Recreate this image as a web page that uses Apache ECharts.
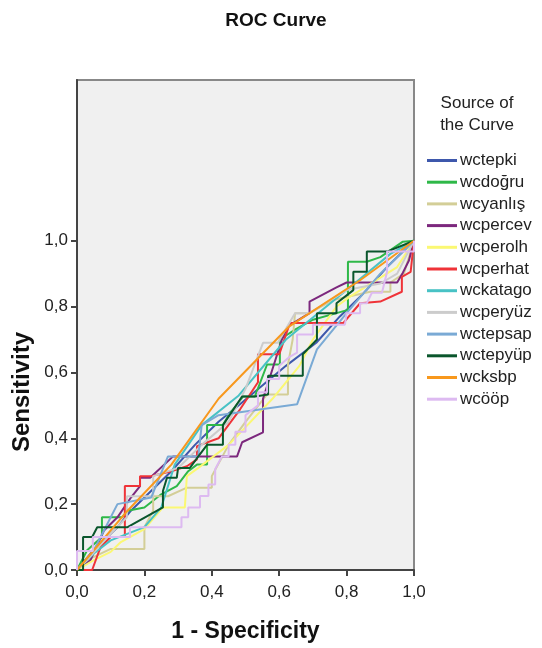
<!DOCTYPE html>
<html>
<head>
<meta charset="utf-8">
<script src="https://cdn.jsdelivr.net/npm/echarts@6/dist/echarts.min.js"></script>
<style>html,body{margin:0;padding:0;background:#fff;}#c{width:542px;height:648px;}</style>
</head>
<body>
<div id="c"></div>
<script>
// Tick labels
var tickValues = [0, 0.2, 0.4, 0.6, 0.8, 1.0];
var seriesNames = ['wctepki','wcdoğru','wcyanlış','wcpercev','wcperolh','wcperhat','wckatago','wcperyüz','wctepsap','wctepyüp','wcksbp','wcööp'];
var seriesColors = ['#3e58ac','#2eb848','#d3ce97','#7c287d','#fbf873','#ef3338','#48c2c5','#cccccc','#7aaad5','#0a562c','#f8981d','#ddbaf1'];

// [1 - specificity, sensitivity]
var wctepki = [[0,0],[0.04,0.05],[0.08,0.09],[0.12,0.13],[0.16,0.18],[0.2,0.22],[0.28,0.30],[0.35,0.38],[0.42,0.45],[0.48,0.50],[0.55,0.56],[0.62,0.62],[0.71,0.69],[0.78,0.77],[0.85,0.84],[0.92,0.92],[1,1]];
var wcdogru = [[0,0],[0.03,0.06],[0.074,0.10],[0.074,0.16],[0.134,0.16],[0.15,0.18],[0.2,0.19],[0.25,0.23],[0.296,0.255],[0.33,0.30],[0.356,0.32],[0.386,0.32],[0.386,0.44],[0.433,0.44],[0.45,0.47],[0.493,0.527],[0.528,0.527],[0.564,0.624],[0.602,0.624],[0.602,0.70],[0.647,0.73],[0.70,0.76],[0.77,0.78],[0.804,0.79],[0.804,0.936],[0.86,0.936],[0.90,0.95],[0.967,0.997],[1,1]];
var wcyanlis = [[0,0],[0.03,0.03],[0.1,0.064],[0.2,0.064],[0.2,0.13],[0.226,0.18],[0.226,0.224],[0.27,0.224],[0.326,0.25],[0.40,0.25],[0.40,0.285],[0.45,0.38],[0.50,0.45],[0.564,0.533],[0.626,0.533],[0.626,0.624],[0.64,0.70],[0.647,0.78],[0.69,0.78],[0.76,0.82],[0.87,0.845],[0.93,0.845],[0.93,0.873],[0.97,0.90],[1,1]];
var wcpercev = [[0,0],[0.04,0.03],[0.08,0.12],[0.12,0.16],[0.16,0.22],[0.187,0.255],[0.187,0.28],[0.217,0.28],[0.285,0.345],[0.475,0.345],[0.49,0.388],[0.552,0.418],[0.552,0.52],[0.608,0.70],[0.626,0.74],[0.69,0.78],[0.69,0.815],[0.77,0.858],[0.80,0.873],[0.95,0.873],[0.967,0.903],[0.985,0.94],[1,1]];
var wcperolh = [[0,0],[0.05,0.03],[0.1,0.055],[0.13,0.085],[0.2,0.124],[0.255,0.19],[0.32,0.19],[0.326,0.285],[0.36,0.31],[0.45,0.38],[0.58,0.52],[0.66,0.62],[0.70,0.70],[0.77,0.80],[0.81,0.83],[0.95,0.92],[1,1]];
var wcperhat = [[0,0],[0.045,0],[0.07,0.07],[0.1,0.10],[0.142,0.10],[0.142,0.255],[0.187,0.255],[0.187,0.285],[0.22,0.285],[0.28,0.30],[0.326,0.315],[0.356,0.336],[0.356,0.376],[0.42,0.40],[0.484,0.488],[0.537,0.57],[0.537,0.655],[0.60,0.655],[0.632,0.75],[0.79,0.75],[0.84,0.81],[0.90,0.815],[0.964,0.845],[0.964,0.89],[0.99,0.905],[1,1]];
var wckatago = [[0,0],[0.05,0.05],[0.1,0.09],[0.2,0.13],[0.25,0.19],[0.29,0.32],[0.37,0.44],[0.48,0.53],[0.62,0.70],[0.80,0.85],[0.93,0.96],[1,1]];
var wcperyuz = [[0,0],[0.03,0.03],[0.09,0.10],[0.148,0.16],[0.148,0.224],[0.226,0.224],[0.226,0.285],[0.30,0.31],[0.37,0.38],[0.45,0.45],[0.50,0.55],[0.552,0.69],[0.596,0.69],[0.647,0.78],[0.69,0.78],[0.80,0.85],[0.90,0.87],[0.95,0.90],[1,1]];
var wctepsap = [[0,0],[0.05,0.06],[0.12,0.20],[0.22,0.22],[0.27,0.345],[0.36,0.345],[0.37,0.44],[0.42,0.47],[0.653,0.503],[0.712,0.67],[0.80,0.78],[0.90,0.90],[1,1]];
var wctepyup = [[0,0],[0.018,0],[0.018,0.10],[0.045,0.10],[0.06,0.13],[0.15,0.13],[0.255,0.19],[0.255,0.24],[0.267,0.28],[0.296,0.28],[0.30,0.31],[0.335,0.31],[0.36,0.345],[0.386,0.38],[0.433,0.38],[0.433,0.44],[0.49,0.527],[0.528,0.527],[0.567,0.533],[0.567,0.59],[0.67,0.59],[0.67,0.655],[0.712,0.70],[0.712,0.78],[0.77,0.78],[0.77,0.81],[0.82,0.85],[0.82,0.906],[0.86,0.906],[0.86,0.967],[0.92,0.967],[1,1]];
var wcksbp = [[0,0],[0.15,0.18],[0.28,0.32],[0.42,0.52],[0.63,0.74],[0.84,0.88],[1,1]];
var wcoop = [[0,0],[0,0.058],[0.047,0.058],[0.047,0.10],[0.157,0.10],[0.157,0.13],[0.31,0.13],[0.31,0.16],[0.33,0.16],[0.33,0.19],[0.365,0.19],[0.365,0.225],[0.39,0.225],[0.39,0.26],[0.41,0.26],[0.41,0.306],[0.43,0.345],[0.45,0.345],[0.45,0.38],[0.47,0.38],[0.47,0.42],[0.50,0.42],[0.50,0.47],[0.537,0.50],[0.537,0.54],[0.564,0.54],[0.564,0.58],[0.60,0.58],[0.60,0.62],[0.632,0.648],[0.653,0.66],[0.653,0.715],[0.70,0.715],[0.70,0.745],[0.795,0.745],[0.80,0.78],[0.84,0.78],[0.84,0.81],[0.86,0.81],[0.875,0.842],[0.905,0.842],[0.92,0.906],[0.92,0.967],[1,0.967],[1,1]];

var seriesData = [wctepki,wcdogru,wcyanlis,wcpercev,wcperolh,wcperhat,wckatago,wcperyuz,wctepsap,wctepyup,wcksbp,wcoop];

var FONT = "'Liberation Sans', Arial, sans-serif";
var fmt = function (v) { return Number(v).toFixed(1).replace('.', ','); };

var chart = echarts.init(document.getElementById('c'), null, {renderer: 'canvas'});
var series = seriesNames.map(function (n, i) {
  return {
    name: n, type: 'line', data: seriesData[i], symbol: 'none', smooth: false,
    lineStyle: {color: seriesColors[i], width: 2}, itemStyle: {color: seriesColors[i]},
    animation: false, z: 2
  };
});

chart.setOption({
  animation: false,
  backgroundColor: '#ffffff',
  title: {text: 'ROC Curve', left: 271, textAlign: 'center', top: 6,
    textStyle: {fontFamily: FONT, fontSize: 19, fontWeight: 'bold', color: '#111'}},
  grid: {left: 77, right: 128, top: 80, bottom: 77, show: true,
    backgroundColor: '#f0f0f0', borderColor: '#888', borderWidth: 2},
  legend: {
    orient: 'vertical', left: 422, top: 147, icon: 'rect', itemWidth: 30, itemHeight: 3,
    itemGap: 4.7, data: seriesNames,
    textStyle: {fontFamily: FONT, fontSize: 17, color: '#222', lineHeight: 17, padding: [0,0,0,-2]},
    selectedMode: false
  },
  graphic: [
    {type: 'text', x: 477, y: 92, style: {text: 'Source of\nthe Curve', fontFamily: FONT, fontSize: 17,
      lineHeight: 22, fill: '#222', align: 'center'}},
    {type: 'text', x: 22, y: 392, rotation: Math.PI / 2, style: {text: 'Sensitivity', fontFamily: FONT, fontSize: 24,
      fontWeight: 'bold', fill: '#111', align: 'center', verticalAlign: 'middle'}}
  ],
  xAxis: {
    type: 'value', min: 0, max: 1, interval: 0.2,
    name: '1 - Specificity', nameLocation: 'middle', nameGap: 50,
    nameTextStyle: {fontFamily: FONT, fontSize: 23, fontWeight: 'bold', color: '#111'},
    axisLine: {show: true, lineStyle: {color: '#444', width: 2}},
    axisTick: {show: true, length: 6, lineStyle: {color: '#444', width: 2}},
    axisLabel: {formatter: fmt, fontFamily: FONT, fontSize: 17, color: '#222', margin: 14},
    splitLine: {show: false}
  },
  yAxis: {
    type: 'value', min: 0, max: 1.488,
    axisLine: {show: true, lineStyle: {color: '#444', width: 2}},
    axisTick: {show: true, length: 6, customValues: tickValues, lineStyle: {color: '#444', width: 2}},
    axisLabel: {formatter: fmt, customValues: tickValues, fontFamily: FONT, fontSize: 17, color: '#222', margin: 9},
    splitLine: {show: false}
  },
  series: series
});
</script>
</body>
</html>
